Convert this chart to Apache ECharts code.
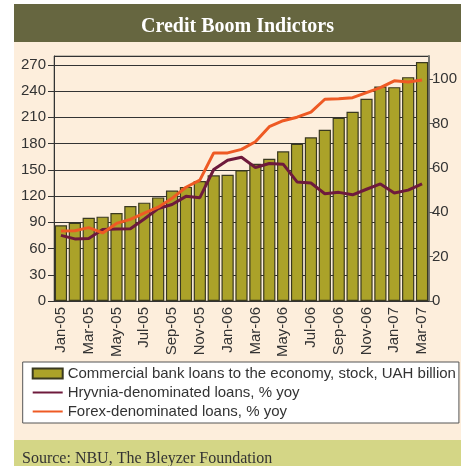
<!DOCTYPE html>
<html>
<head>
<meta charset="utf-8">
<script src="https://cdn.jsdelivr.net/npm/echarts@6/dist/echarts.min.js"></script>
<style>
html,body{margin:0;padding:0;background:#ffffff;}
#chart{position:absolute;left:14px;top:4px;width:447px;height:462px;}
</style>
</head>
<body>
<div id="chart"></div>
<script>
var categories = ["Jan-05","Feb-05","Mar-05","Apr-05","May-05","Jun-05","Jul-05","Aug-05","Sep-05","Oct-05","Nov-05","Dec-05",
  "Jan-06","Feb-06","Mar-06","Apr-06","May-06","Jun-06","Jul-06","Aug-06","Sep-06","Oct-06","Nov-06","Dec-06",
  "Jan-07","Feb-07","Mar-07"];
var loansStock = [86.5, 89.5, 95.2, 96.4, 100.5, 108.5, 112.4, 118.4, 126.2, 130.4, 137, 143.6,
  144.3, 149.3, 156.9, 162.6, 171, 179.8, 187, 195.7, 209.5, 216.3, 231.2, 245.2, 244.4, 255.8, 273];
var hryvniaYoy = [29.6, 28, 28.2, 32.2, 32.5, 32.6, 37, 41.7, 43.5, 47.2, 46.6, 59.3,
  63.5, 64.8, 60.2, 62, 61.7, 53.7, 53.2, 48.4, 49, 47.9, 50.4, 52.8, 48.7, 50, 52.8];
var forexYoy = [31.6, 31.7, 33.1, 30.7, 35, 36.8, 39.6, 42.3, 46.3, 51.3, 54.5, 66.8,
  66.8, 68.4, 71.8, 78.6, 81.3, 82.9, 85.2, 91, 91.2, 91.7, 94, 96.2, 99.3, 98.8, 99.7];
var titleText = "Credit Boom Indictors";
var sourceText = "Source: NBU, The Bleyzer Foundation";
var seriesNames = ["Commercial bank loans to the economy, stock, UAH billion",
  "Hryvnia-denominated loans, % yoy", "Forex-denominated loans, % yoy"];

var chart = echarts.init(document.getElementById('chart'), null, {renderer: 'canvas'});
var sans = 'Liberation Sans';
var option = {
  backgroundColor: '#fdeedc',
  animation: false,
  graphic: [
    {type: 'rect', shape: {x: 0, y: 0, width: 447, height: 38}, style: {fill: '#666640'}, z: 0},
    {type: 'text', x: 223.5, y: 22.5, style: {text: titleText, fill: '#ffffff', font: 'bold 20px "Liberation Serif"', align: 'center', verticalAlign: 'middle'}, z: 1},
    {type: 'rect', shape: {x: 0, y: 436, width: 447, height: 26}, style: {fill: '#d4d686'}, z: 0},
    {type: 'text', x: 8, y: 454.5, style: {text: sourceText, fill: '#333333', font: '16px "Liberation Serif"', align: 'left', verticalAlign: 'middle'}, z: 1}
  ],
  grid: {left: 40, right: 32, top: 52, bottom: 165, show: true, borderColor: '#8a8a80', borderWidth: 1, backgroundColor: 'transparent'},
  legend: {
    orient: 'vertical', left: 8.7, top: 358,
    backgroundColor: '#ffffff', borderColor: '#555555', borderWidth: 1,
    padding: [3, 3, 3, 9], itemGap: 2, itemWidth: 30, itemHeight: 10,
    textStyle: {fontFamily: sans, fontSize: 15, color: '#333333', lineHeight: 17},
    data: [
      {name: seriesNames[0], icon: 'rect'},
      {name: seriesNames[1], itemStyle: {opacity: 0}},
      {name: seriesNames[2], itemStyle: {opacity: 0}}
    ]
  },
  xAxis: {
    type: 'category', data: categories, boundaryGap: true,
    axisLine: {lineStyle: {color: '#333333', width: 1}},
    axisTick: {interval: 0, length: 5, lineStyle: {color: '#333333'}},
    axisLabel: {interval: 1, rotate: 90, fontFamily: sans, fontSize: 15, color: '#333333', margin: 6}
  },
  yAxis: [
    {
      type: 'value', min: 0, max: 280, interval: 30, position: 'left',
      axisLine: {show: true, lineStyle: {color: '#333333', width: 1}},
      axisTick: {show: true, length: 6, lineStyle: {color: '#333333'}},
      axisLabel: {fontFamily: sans, fontSize: 15, color: '#333333', margin: 8, showMaxLabel: false},
      splitLine: {show: true, lineStyle: {color: '#333333', width: 1}}
    },
    {
      type: 'value', min: 0, max: 110.5, interval: 20, position: 'right',
      axisLine: {show: true, lineStyle: {color: '#777770', width: 2}},
      axisTick: {show: true, length: 4, lineStyle: {color: '#555555'}},
      axisLabel: {fontFamily: sans, fontSize: 15, color: '#333333', margin: 3, showMaxLabel: false},
      splitLine: {show: false}
    }
  ],
  series: [
    {
      name: seriesNames[0], type: 'bar', yAxisIndex: 0, data: loansStock,
      barCategoryGap: '12%',
      itemStyle: {color: '#aba229', borderColor: '#3a3920', borderWidth: 1.2}
    },
    {
      name: seriesNames[1], type: 'line', yAxisIndex: 1, data: hryvniaYoy,
      symbol: 'none', lineStyle: {color: '#6e1a3c', width: 3}, itemStyle: {color: '#6e1a3c'}, z: 3
    },
    {
      name: seriesNames[2], type: 'line', yAxisIndex: 1, data: forexYoy,
      symbol: 'none', lineStyle: {color: '#ee5a24', width: 3}, itemStyle: {color: '#ee5a24'}, z: 4
    }
  ]
};
chart.setOption(option);
</script>
</body>
</html>
